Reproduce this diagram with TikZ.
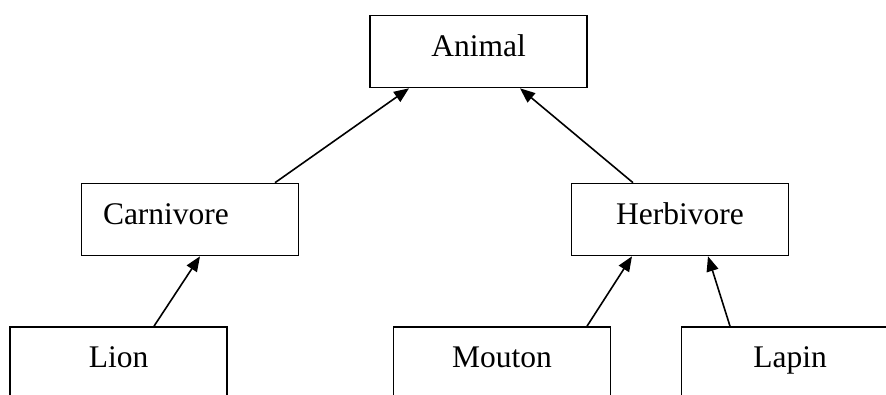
\documentclass[tikz,border=0pt]{standalone}
\usepackage{fontspec}
\setmainfont{Liberation Serif}
\usetikzlibrary{arrows.meta}
\tikzset{
  classbox/.style={draw, line width=1.6pt, rectangle, inner sep=0pt,
    minimum width=217pt, minimum height=72pt,
    text height=20pt, text depth=11pt,
    font=\fontsize{31.5}{38}\selectfont},
  herite/.style={-{Triangle[length=15pt,width=12pt]}, line width=1.6pt}
}
\begin{document}
\begin{tikzpicture}[x=1pt, y=-1pt]
    \clip (0,0) rectangle (886,394);
    % Classes
    \node[classbox] (animal) at (478.5,51.5) {Animal};
    \node[classbox, text width=174pt, align=left] (carnivore) at (190,219.5) {Carnivore};
    \node[classbox] (herbivore) at (680,219.5) {Herbivore};
    \node[classbox] (lion) at (118.5,363) {Lion};
    \node[classbox] (mouton) at (502,363) {Mouton};
    \node[classbox] (lapin) at (790,363) {Lapin};
    % Heritage
    \draw[herite] ([xshift=85pt]carnivore.north) -- ([xshift=-69.5pt]animal.south);
    \draw[herite] ([xshift=-47pt]herbivore.north) -- ([xshift=41.5pt]animal.south);
    \draw[herite] ([xshift=35.5pt]lion.north) -- ([xshift=10pt]carnivore.south);
    \draw[herite] ([xshift=85pt]mouton.north) -- ([xshift=-48pt]herbivore.south);
    \draw[herite] ([xshift=-60pt]lapin.north) -- ([xshift=28pt]herbivore.south);
\end{tikzpicture}
\end{document}
